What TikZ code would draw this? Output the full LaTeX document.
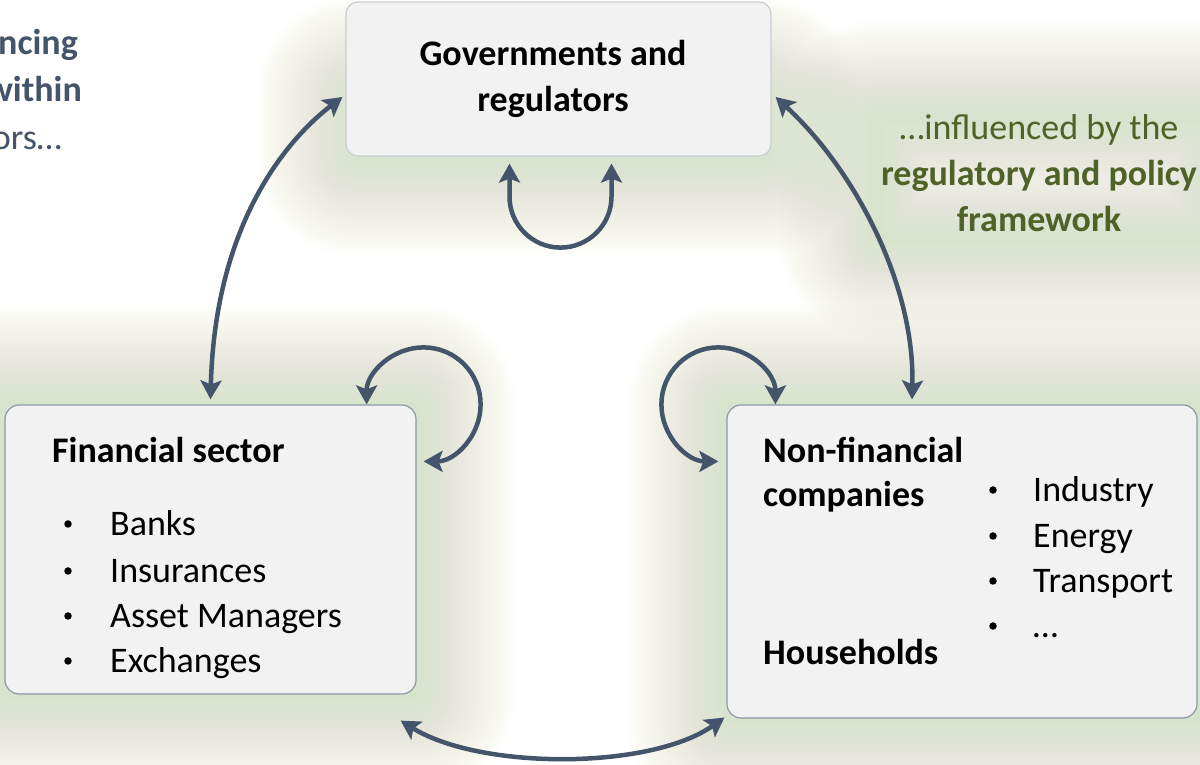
\documentclass[tikz,border=0pt]{standalone}
\usepackage{fontspec}
\setmainfont{Carlito}
\usetikzlibrary{arrows.meta,backgrounds}

\definecolor{slate}{HTML}{44546A}
\definecolor{olivetext}{HTML}{4F6228}
\definecolor{boxfill}{HTML}{F2F2F2}
\definecolor{boxline}{HTML}{8D97A5}
\definecolor{boxlinelight}{HTML}{C9CCD0}
\definecolor{glowgreen}{HTML}{D6E4B8}

\tikzset{
  sectorbox/.style={draw=boxline, line width=1.2pt, fill=boxfill,
    rounded corners=14pt, inner sep=0pt},
  linkarrow/.style={draw=slate, line width=4.5pt,
    >={Stealth[length=19pt,width=21pt,inset=4pt]}, <->},
  headtext/.style={font=\fontsize{36}{46}\selectfont\bfseries, inner sep=0pt},
  itemtext/.style={font=\fontsize{36}{46}\selectfont, inner sep=0pt, anchor=base west},
  bulletdot/.style={circle, fill=black, inner sep=0pt, minimum size=7.5pt},
  sidetext/.style={font=\fontsize{36}{48}\selectfont, text=slate, inner sep=0pt, anchor=base east},
  policytext/.style={font=\fontsize{36}{46}\selectfont, text=olivetext, inner sep=0pt, anchor=base},
  glowpen/.style={draw=glowgreen, opacity=0.018, line join=round},
}

\begin{document}
\begin{tikzpicture}[x=1pt,y=1pt]
\path[use as bounding box] (0,0) rectangle (1200,765);
\clip (0,0) rectangle (1200,765);

% boxes
\node[sectorbox, draw=boxlinelight, rounded corners=12pt,
      minimum width=425pt, minimum height=154pt] (gov) at (558.5,686) {};
\node[sectorbox, minimum width=411pt, minimum height=289pt] (fin) at (210.5,215.5) {};
\node[sectorbox, minimum width=470pt, minimum height=313pt] (nonfin) at (962,203.5) {};

% soft green glow behind the boxes and the policy caption
\begin{scope}[on background layer]
  \fill[white] (0,0) rectangle (1200,765);
  \foreach \w in {5,10,...,200} {
    \draw[glowpen, line width=\w pt] ([xshift=10pt]gov.south west) rectangle ([shift={(-10pt,-95pt)}]gov.north east);
    \draw[glowpen, line width=\w pt] (fin.south west) rectangle (fin.north east);
    \draw[glowpen, line width=\w pt] (nonfin.south west) rectangle (nonfin.north east);
    \draw[glowpen, line width=\w pt] (878,525) rectangle (1215,645);
  }
\end{scope}

% governments box text
\node[headtext, anchor=base] (govA) at (553,699) {Governments and};
\node[headtext, anchor=base] (govB) at (553,653) {regulators};

% financial sector
\node[headtext, anchor=base west] (finhead) at (52,302) {Financial sector};
\node[bulletdot] (fb1) at (68,241) {};
\node[bulletdot] (fb2) at (68,194) {};
\node[bulletdot] (fb3) at (68,149) {};
\node[bulletdot] (fb4) at (68,104) {};
\node[itemtext] (fi1) at (110,229) {Banks};
\node[itemtext] (fi2) at (110,182) {Insurances};
\node[itemtext] (fi3) at (110,137) {Asset Managers};
\node[itemtext] (fi4) at (110,92) {Exchanges};

% non-financial sector
\node[headtext, anchor=base west] (nfA) at (763,302) {Non-financial};
\node[headtext, anchor=base west] (nfB) at (763,258) {companies};
\node[headtext, anchor=base west] (nfC) at (763,100) {Households};
\node[bulletdot] (nb1) at (993,275) {};
\node[bulletdot] (nb2) at (993,229) {};
\node[bulletdot] (nb3) at (993,184) {};
\node[bulletdot] (nb4) at (993,139) {};
\node[itemtext] (ni1) at (1033,263) {Industry};
\node[itemtext] (ni2) at (1033,217) {Energy};
\node[itemtext] (ni3) at (1033,172) {Transport};
\node[itemtext] (ni4) at (1033,127) {…};

% policy caption
\node[policytext] (polA) at (1039,625) {…influenced by the};
\node[policytext, font=\fontsize{36}{46}\selectfont\bfseries] (polB) at (1039,579) {regulatory and policy};
\node[policytext, font=\fontsize{36}{46}\selectfont\bfseries] (polC) at (1039,533) {framework};

% side caption
\node[sidetext, font=\fontsize{36}{48}\selectfont\bfseries] (sideA) at (78,710) {ncing};
\node[sidetext, font=\fontsize{36}{48}\selectfont\bfseries] (sideB) at (82,663) {within};
\node[sidetext] (sideC) at (62,615) {ors…};

% connectors between sectors
\draw[linkarrow] ([yshift=5pt]fin.north) .. controls (215,545) and (290,628) .. ([shift={(-3,-18)}]gov.west);
\draw[linkarrow] ([shift={(4,-18)}]gov.east) .. controls (855,595) and (915,480) .. ([shift={(-50,5)}]nonfin.north);
\draw[linkarrow] ([shift={(-16,-26)}]fin.south east) .. controls (480,-5) and (650,-5) .. ([shift={(-2,1)}]nonfin.south west);

% interactions within each sector
\draw[linkarrow] ([shift={(-49,-7)}]gov.south) -- ++(0,-33) arc[start angle=180, end angle=360, radius=51] -- ([shift={(53,-7)}]gov.south);
\draw[linkarrow] ([xshift=-50pt]fin.north east) arc[start angle=180, end angle=-90, radius=57];
\draw[linkarrow] ([xshift=49pt]nonfin.north west) arc[start angle=0, end angle=270, radius=57];
\end{tikzpicture}
\end{document}
